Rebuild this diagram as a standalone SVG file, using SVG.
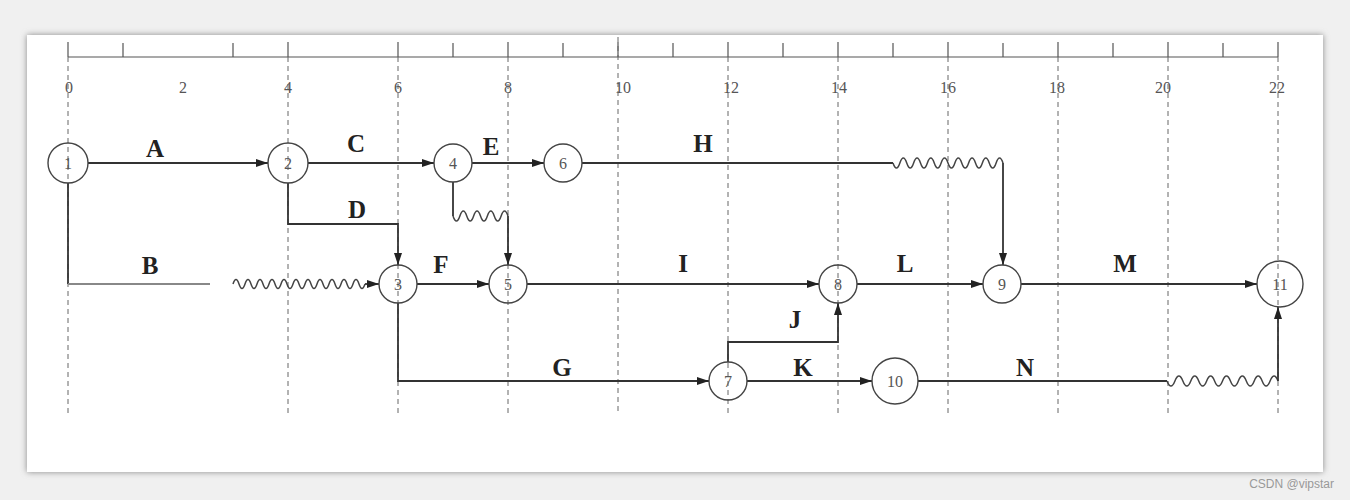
<svg xmlns="http://www.w3.org/2000/svg" width="1350" height="500" viewBox="0 0 1350 500">
<defs>
<marker id="arr" viewBox="0 0 12 8" refX="12" refY="4" markerWidth="12" markerHeight="8" markerUnits="userSpaceOnUse" orient="auto"><path d="M0,0 L12,4 L0,8 Z" fill="#222"/></marker>
<filter id="sh" x="-5%" y="-5%" width="110%" height="110%"><feGaussianBlur stdDeviation="3"/></filter>
</defs>
<style>
.grid{stroke:#666;stroke-width:1;stroke-dasharray:5,4;fill:none}
.tick{stroke:#555;stroke-width:1.2;fill:none}
.num{font-family:"Liberation Serif",serif;font-size:16px;fill:#555;text-anchor:middle}
.e{stroke:#333;stroke-width:1.8;fill:none}
.ea{stroke:#333;stroke-width:1.8;fill:none;marker-end:url(#arr)}
.w{stroke:#444;stroke-width:1.5;fill:none}
.lbl{font-family:"Liberation Serif",serif;font-size:25px;font-weight:bold;fill:#222;text-anchor:middle}
.nd{stroke:#444;stroke-width:1.4;fill:none}
.nt{font-family:"Liberation Serif",serif;font-size:16px;fill:#555;text-anchor:middle;dominant-baseline:central}
</style>
<rect x="0" y="0" width="1350" height="500" fill="#f0f0f0"/>
<rect x="27" y="35" width="1296" height="437" fill="#888" filter="url(#sh)"/>
<rect x="27" y="35" width="1296" height="437" fill="#ffffff"/>
<g id="ruler">
<line class="tick" x1="68" y1="57" x2="1278" y2="57"/>
<path class="tick" d="M68,42V57 M123,43V57 M233,43V57 M288,42V57 M398,42V57 M453,43V57 M508,42V57 M563,43V57 M618,42V57 M673,43V57 M728,42V57 M783,43V57 M838,42V57 M893,43V57 M948,42V57 M1003,43V57 M1058,42V57 M1113,43V57 M1168,42V57 M1223,43V57 M1278,42V57"/>
<path class="grid" d="M68,57V415 M288,57V415 M398,57V415 M508,57V415 M618,37V415 M728,57V415 M838,57V415 M948,57V415 M1058,57V415 M1168,57V415 M1278,57V415"/>
<text class="num" x="69" y="93">0</text>
<text class="num" x="183" y="93">2</text>
<text class="num" x="288" y="93">4</text>
<text class="num" x="398" y="93">6</text>
<text class="num" x="508" y="93">8</text>
<text class="num" x="623" y="93">10</text>
<text class="num" x="731" y="93">12</text>
<text class="num" x="839" y="93">14</text>
<text class="num" x="948" y="93">16</text>
<text class="num" x="1057" y="93">18</text>
<text class="num" x="1163" y="93">20</text>
<text class="num" x="1277" y="93">22</text>
</g>
<g id="connectors">
<line class="ea" x1="88" y1="163" x2="268" y2="163"/>
<line class="ea" x1="308" y1="163" x2="434" y2="163"/>
<line class="ea" x1="472" y1="163" x2="544" y2="163"/>
<line class="e" x1="582" y1="163" x2="893" y2="163"/>
<path class="w" d="M893,163 q3.44,10 6.875,0 t6.875,0 t6.875,0 t6.875,0 t6.875,0 t6.875,0 t6.875,0 t6.875,0 t6.875,0 t6.875,0 t6.875,0 t6.875,0 t6.875,0 t6.875,0 t6.875,0 t6.875,0"/>
<path class="ea" d="M1003,163 V265"/>
<path class="ea" d="M288,183 V224 H398 V265"/>
<path class="e" d="M453,182 V216"/>
<path class="w" d="M453,216 q3.44,10 6.875,0 t6.875,0 t6.875,0 t6.875,0 t6.875,0 t6.875,0 t6.875,0 t6.875,0"/>
<path class="ea" d="M508,216 V265"/>
<path class="e" d="M68,183 V284"/>
<line x1="68" y1="284" x2="210" y2="284" stroke="#888" stroke-width="1.8"/>
<path class="w" d="M233,284 q3,-9 6,0 t6,0 t6,0 t6,0 t6,0 t6,0 t6,0 t6,0 t6,0 t6,0 t6,0 t6,0 t6,0 t6,0 t6,0 t6,0 t6,0 t6,0 t6,0 t6,0 t6,0 t6,0"/>
<line class="ea" x1="365" y1="284" x2="379" y2="284"/>
<line class="ea" x1="417" y1="284" x2="489" y2="284"/>
<line class="ea" x1="527" y1="284" x2="819" y2="284"/>
<line class="ea" x1="857" y1="284" x2="983" y2="284"/>
<line class="ea" x1="1021" y1="284" x2="1257" y2="284"/>
<path class="ea" d="M398,303 V381 H709"/>
<path class="ea" d="M728,362 V342 H838 V303"/>
<line class="ea" x1="747" y1="381" x2="872" y2="381"/>
<line class="e" x1="918" y1="381" x2="1167" y2="381"/>
<path class="w" d="M1167,381 q3.96,10 7.93,0 t7.93,0 t7.93,0 t7.93,0 t7.93,0 t7.93,0 t7.93,0 t7.93,0 t7.93,0 t7.93,0 t7.93,0 t7.93,0 t7.93,0 t7.93,0"/>
<path class="ea" d="M1278,381 V307"/>
</g>
<g id="labels">
<text class="lbl" x="155" y="157">A</text>
<text class="lbl" x="356" y="152">C</text>
<text class="lbl" x="491" y="155">E</text>
<text class="lbl" x="703" y="152">H</text>
<text class="lbl" x="357" y="218">D</text>
<text class="lbl" x="150" y="274">B</text>
<text class="lbl" x="441" y="273">F</text>
<text class="lbl" x="683" y="272">I</text>
<text class="lbl" x="905" y="272">L</text>
<text class="lbl" x="1125" y="272">M</text>
<text class="lbl" x="562" y="376">G</text>
<text class="lbl" x="795" y="328">J</text>
<text class="lbl" x="803" y="376">K</text>
<text class="lbl" x="1025" y="376">N</text>
</g>
<g id="n1"><circle class="nd" cx="68" cy="163" r="20"/><text class="nt" x="68" y="163">1</text></g>
<g id="n2"><circle class="nd" cx="288" cy="163" r="20"/><text class="nt" x="288" y="163">2</text></g>
<g id="n4"><circle class="nd" cx="453" cy="163" r="19"/><text class="nt" x="453" y="163">4</text></g>
<g id="n6"><circle class="nd" cx="563" cy="163" r="19"/><text class="nt" x="563" y="163">6</text></g>
<g id="n3"><circle class="nd" cx="398" cy="284" r="19"/><text class="nt" x="398" y="284">3</text></g>
<g id="n5"><circle class="nd" cx="508" cy="284" r="19"/><text class="nt" x="508" y="284">5</text></g>
<g id="n8"><circle class="nd" cx="838" cy="284" r="19"/><text class="nt" x="838" y="284">8</text></g>
<g id="n9"><circle class="nd" cx="1002" cy="284" r="19"/><text class="nt" x="1002" y="284">9</text></g>
<g id="n11"><circle class="nd" cx="1280" cy="284" r="23"/><text class="nt" x="1280" y="284">11</text></g>
<g id="n7"><circle class="nd" cx="728" cy="381" r="19"/><text class="nt" x="728" y="381">7</text></g>
<g id="n10"><circle class="nd" cx="895" cy="381" r="23"/><text class="nt" x="895" y="381">10</text></g>
<text x="1334" y="488" font-family="Liberation Sans, sans-serif" font-size="12" fill="#999" text-anchor="end">CSDN @vipstar</text>
</svg>
